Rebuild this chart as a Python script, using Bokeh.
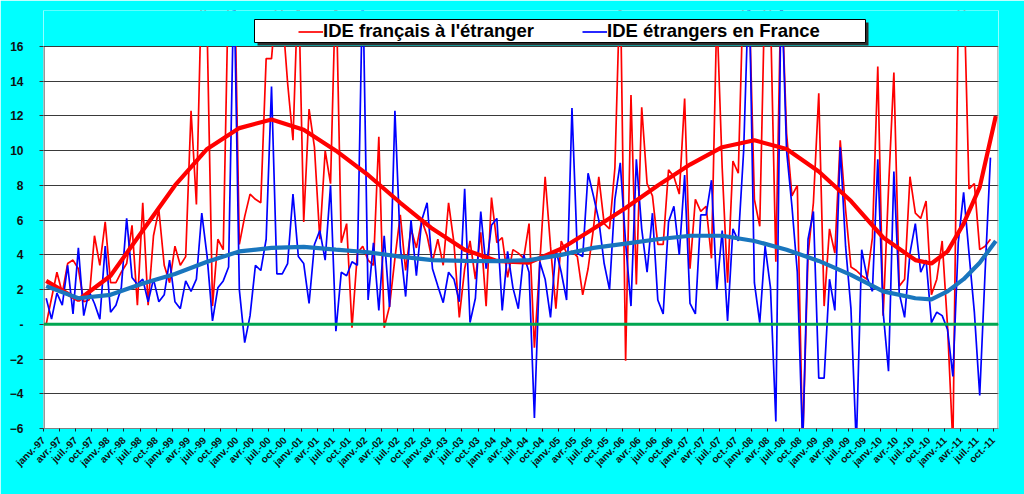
import math
from bokeh.plotting import figure
from bokeh.models import (ColumnDataSource, FixedTicker, Span, Legend, LegendItem,
                          BoxAnnotation, Range1d)
from bokeh.embed import file_html
from bokeh.resources import INLINE

# ---------------- data ----------------
month_names = ["janv.", "févr.", "mars", "avr.", "mai", "juin",
               "juil.", "août", "sept.", "oct.", "nov.", "déc."]
years = list(range(1997, 2012))

# monthly values, janv.-97 ... sept.-11 (values beyond the axis are clipped)
ide_fr_etranger = [
    0.0, 1.5, 3.0, 1.8, 3.5, 3.7, 3.2, 1.3, 1.4, 5.1,
    3.4, 5.9, 2.4, 2.4, 3.0, 3.5, 5.7, 1.1, 7.0, 1.1,
    5.1, 6.6, 3.4, 2.4, 4.5, 3.4, 3.9, 12.3, 6.9, 20.0,
    17.0, 1.05, 4.9, 4.3, 20.0, 22.0, 4.6, 6.2, 7.5, 7.2,
    7.0, 15.3, 15.3, 19.0, 18.0, 13.9, 10.6, 20.0, 5.9, 12.4,
    10.2, 4.9, 10.0, 8.1, 20.0, 4.7, 5.8, -0.2, 4.1, 4.5,
    3.7, 3.4, 10.8, -0.2, 1.05, 3.8, 6.3, 3.1, 5.5, 4.4,
    6.0, 5.1, 3.6, 4.9, 3.4, 7.0, 4.7, 0.4, 3.2, 4.8,
    2.6, 5.3, 1.05, 7.3, 4.7, 5.0, 2.7, 4.3, 4.1, 3.8,
    5.8, -1.35, 3.5, 8.5, 4.5, 0.9, 4.8, 4.1, 4.2, 3.9,
    1.7, 3.2, 5.5, 8.5, 5.8, 5.5, 9.0, 20.0, -2.1, 13.2,
    2.3, 12.5, 8.1, 7.4, 4.6, 4.6, 8.9, 8.5, 7.5, 13.0,
    3.2, 7.2, 6.5, 6.8, 3.8, 18.0, 9.0, 2.4, 9.4, 8.7,
    20.0, 19.0, 7.2, 5.65, 20.0, 18.0, 3.6, 20.0, 11.0, 7.4,
    8.0, -7.0, 4.0, 7.0, 13.3, 1.05, 5.5, 4.1, 10.6, 6.6,
    3.3, 3.1, 2.8, 2.6, 5.0, 14.85, 0.5, 7.8, 14.5, 2.2,
    2.6, 8.5, 6.4, 6.1, 7.1, 1.7, 2.6, 4.8, -0.1, -7.0,
    18.0, 20.0, 7.8, 8.1, 4.3, 4.5, 4.9,
]
ide_etr_france = [
    1.5, 0.3, 1.8, 1.1, 3.4, 0.6, 4.4, 0.5, 1.9, 1.2,
    0.3, 4.5, 0.7, 1.1, 2.1, 6.1, 2.7, 2.3, 2.6, 1.3,
    2.6, 1.3, 1.7, 3.7, 1.3, 0.9, 2.5, 1.9, 2.6, 6.4,
    3.9, 0.2, 2.1, 2.5, 3.3, 20.0, 2.0, -1.05, 0.5, 3.4,
    3.1, 4.9, 13.7, 2.9, 2.9, 3.5, 7.5, 3.9, 3.5, 1.2,
    4.6, 5.4, 3.7, 8.0, -0.4, 3.0, 2.8, 3.6, 3.4, 20.0,
    1.4, 4.7, 0.8, 5.1, 1.0, 12.3, 4.5, 1.6, 6.0, 2.8,
    6.0, 7.0, 3.2, 2.2, 1.25, 3.0, 2.6, 1.3, 7.8, 0.1,
    1.5, 6.5, 3.2, 5.7, 6.1, 0.8, 4.2, 2.1, 0.9, 4.0,
    3.0, -5.4, 3.6, 2.6, 0.4, 4.3, 3.0, 1.4, 12.45, 4.1,
    3.9, 8.7, 7.4, 6.0, 3.5, 2.0, 7.2, 9.3, 4.7, 1.05,
    9.5, 5.5, 3.0, 6.4, 1.4, 0.6, 5.9, 6.8, 4.0, 8.6,
    1.2, 0.6, 6.3, 6.3, 8.3, 2.0, 5.4, 0.2, 5.5, 4.8,
    10.0, 20.0, 2.4, 0.1, 4.5, 2.1, -5.6, 20.0, 10.0, 6.8,
    3.0, -7.0, 4.9, 6.5, -3.1, -3.1, 2.6, 0.8, 10.2, 4.5,
    0.9, -7.0, 4.3, 2.7, 1.9, 9.5, 0.7, -2.7, 8.8, 1.8,
    0.4, 4.1, 5.8, 3.0, 3.7, 0.1, 0.7, 0.5, -0.3, -3.0,
    4.7, 7.6, 4.1, 0.7, -4.1, 3.0, 9.6,
]

# polynomial trend curves (month index, value)
trend_months = [0, 6, 12, 18, 24, 30, 36, 42, 48, 54, 60, 66, 72, 78, 84, 90,
                96, 102, 108, 114, 120, 126, 132, 138, 144, 150, 156, 162,
                165, 168, 171, 174, 177]
trend_fr = [2.5, 1.4, 2.8, 5.4, 8.0, 10.1, 11.3, 11.8, 11.2, 10.0, 8.6, 7.0,
            5.5, 4.3, 3.65, 3.55, 4.35, 5.5, 6.7, 8.0, 9.2, 10.2, 10.6, 10.1,
            8.8, 7.1, 5.0, 3.7, 3.5, 4.2, 5.8, 7.9, 12.0]
trend_etr = [2.2, 1.5, 1.7, 2.35, 2.9, 3.6, 4.2, 4.4, 4.46, 4.3, 4.15, 3.9,
             3.7, 3.65, 3.64, 3.7, 4.0, 4.4, 4.65, 4.9, 5.1, 5.1, 4.8, 4.3,
             3.65, 2.85, 1.9, 1.5, 1.44, 1.9, 2.6, 3.55, 4.8]

y_ticks = [-6, -4, -2, 0, 2, 4, 6, 8, 10, 12, 14, 16]
y_min, y_max = -6, 16
n_months = 178  # janv.-97 ... oct.-11 on the axis

tick_positions = list(range(0, n_months, 3))
tick_labels = [f"{month_names[m % 12]}-{str(years[m // 12])[2:]}" for m in tick_positions]

# ---------------- geometry (pixels) ----------------
W, H = 1024, 494
B_LEFT, B_RIGHT, B_TOP, B_BOTTOM = 43, 26, 10, 66
PLOT_H = 382                      # height of the -6..16 plot area
frame_h = H - B_TOP - B_BOTTOM
px_per_unit = PLOT_H / (y_max - y_min)
y_top = y_min + frame_h / px_per_unit   # frame extends above 16 to hold the legend
px_per_month = (W - B_LEFT - B_RIGHT) / n_months

FONT = "Liberation Sans"
CYAN = "#00FFFF"
p = figure(width=W, height=H, output_backend="svg", toolbar_location=None,
           x_range=Range1d(0, n_months), y_range=Range1d(y_min, y_top),
           min_border_left=B_LEFT, min_border_right=B_RIGHT, min_border_top=B_TOP,
           min_border_bottom=B_BOTTOM)
p.border_fill_color = CYAN
p.background_fill_color = "white"
p.outline_line_color = None

src = ColumnDataSource(dict(
    x=[i + 0.5 for i in range(len(ide_fr_etranger))],
    fr=ide_fr_etranger, etr=ide_etr_france))
tsrc = ColumnDataSource(dict(x=[m + 0.5 for m in trend_months],
                             fr=trend_fr, etr=trend_etr))

r_fr = p.line("x", "fr", source=src, color="#FF0000", line_width=1.7)
r_etr = p.line("x", "etr", source=src, color="#0000FF", line_width=1.7)
p.line("x", "fr", source=tsrc, color="#FF0000", line_width=4.2)
p.line("x", "etr", source=tsrc, color="#1976BE", line_width=4.2)

p.add_layout(Span(location=0, dimension="width", line_color="#00A651", line_width=3))

# cyan band above the plot area (hides everything beyond 16)
half_px = 0.5 / px_per_unit
p.quad(left=0, right=n_months, bottom=y_max + half_px, top=y_top + 1,
       fill_color=CYAN, line_color=None)
# plot-area borders
p.segment(x0=[0.5 / px_per_month], y0=[y_min], x1=[0.5 / px_per_month], y1=[y_max],
          line_color="#333333", line_width=1)
p.segment(x0=[n_months - 0.5 / px_per_month], y0=[y_min],
          x1=[n_months - 0.5 / px_per_month], y1=[y_max],
          line_color="#808080", line_width=1)

# grid
p.xgrid.visible = False
p.ygrid.ticker = FixedTicker(ticks=y_ticks)
p.ygrid.grid_line_color = "#3a3a3a"
p.ygrid.grid_line_width = 1

# y axis
p.yaxis.ticker = FixedTicker(ticks=y_ticks)
p.yaxis.major_label_overrides = {0: "-"}
p.yaxis.major_label_text_font = FONT
p.yaxis.major_label_text_font_style = "bold"
p.yaxis.major_label_text_font_size = "12px"
p.yaxis.major_label_text_color = "#111111"
p.yaxis.major_label_standoff = 16
p.yaxis.major_tick_in = 0
p.yaxis.major_tick_out = 4
p.yaxis.minor_tick_line_color = None
p.yaxis.axis_line_color = None
p.yaxis.major_tick_line_color = "#333333"

# x axis
p.xaxis.ticker = FixedTicker(ticks=tick_positions)
p.xaxis.major_label_overrides = {m: lab for m, lab in zip(tick_positions, tick_labels)}
p.xaxis.major_label_orientation = math.pi / 4
p.xaxis.major_label_text_font = FONT
p.xaxis.major_label_text_font_style = "bold"
p.xaxis.major_label_text_font_size = "10px"
p.xaxis.major_label_text_color = "#111111"
p.xaxis.major_label_standoff = 7
p.xaxis.major_tick_in = 0
p.xaxis.major_tick_out = 3
p.xaxis.minor_tick_line_color = None
p.xaxis.axis_line_color = "#808080"
p.xaxis.major_tick_line_color = "#222222"

# legend box with shadow (pixel offsets from the frame's bottom-left corner)
def sx(px):
    return px / px_per_month

def sy(px):
    return y_min + px / px_per_unit

box_l, box_r, box_b, box_t = 211, 822, 386, 409
shadow = 3
p.add_layout(BoxAnnotation(left=sx(box_l + shadow), right=sx(box_r + shadow),
                           bottom=sy(box_b - shadow), top=sy(box_t - shadow),
                           fill_color="#303030", fill_alpha=1.0, line_color=None,
                           line_alpha=0))
p.add_layout(BoxAnnotation(left=sx(box_l), right=sx(box_r),
                           bottom=sy(box_b), top=sy(box_t),
                           fill_color="white", fill_alpha=1.0,
                           line_color="black", line_width=1, line_alpha=1.0))

legend = Legend(items=[LegendItem(label="IDE français à l'étranger", renderers=[r_fr]),
                       LegendItem(label="IDE étrangers en France", renderers=[r_etr])],
                location=(255, 386), orientation="horizontal",
                padding=1, spacing=48, glyph_width=25, glyph_height=21,
                label_standoff=0, label_height=21,
                label_text_font=FONT, label_text_font_style="bold",
                label_text_font_size="18.5px", label_text_color="black",
                background_fill_alpha=0, border_line_color=None, margin=0)
p.add_layout(legend, "center")

open("out.html", "w").write(file_html(p, INLINE))
